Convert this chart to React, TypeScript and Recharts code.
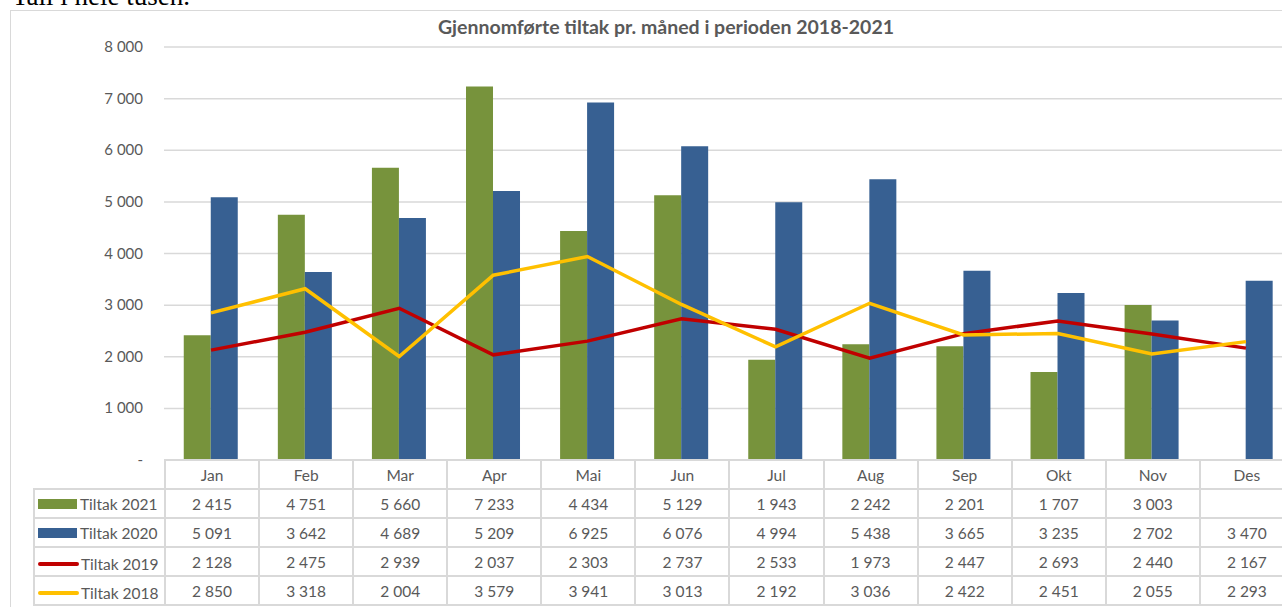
import React from "react";
import {
  ComposedChart,
  Bar,
  Line,
  XAxis,
  YAxis,
  CartesianGrid,
} from "recharts";

const months = ["Jan", "Feb", "Mar", "Apr", "Mai", "Jun", "Jul", "Aug", "Sep", "Okt", "Nov", "Des"];
const tiltak2021 = [2415, 4751, 5660, 7233, 4434, 5129, 1943, 2242, 2201, 1707, 3003, null];
const tiltak2020 = [5091, 3642, 4689, 5209, 6925, 6076, 4994, 5438, 3665, 3235, 2702, 3470];
const tiltak2019 = [2128, 2475, 2939, 2037, 2303, 2737, 2533, 1973, 2447, 2693, 2440, 2167];
const tiltak2018 = [2850, 3318, 2004, 3579, 3941, 3013, 2192, 3036, 2422, 2451, 2055, 2293];
const yTicks = [0, 1000, 2000, 3000, 4000, 5000, 6000, 7000, 8000];

const series = [
  { key: "t2021", name: "Tiltak 2021", values: tiltak2021, color: "#77933C", kind: "bar" },
  { key: "t2020", name: "Tiltak 2020", values: tiltak2020, color: "#376092", kind: "bar" },
  { key: "t2019", name: "Tiltak 2019", values: tiltak2019, color: "#C00000", kind: "line" },
  { key: "t2018", name: "Tiltak 2018", values: tiltak2018, color: "#FFC000", kind: "line" },
];

const data = months.map((m, i) => ({
  month: m,
  t2021: tiltak2021[i],
  t2020: tiltak2020[i],
  t2019: tiltak2019[i],
  t2018: tiltak2018[i],
}));

// "2 415"-style thousands grouping
const fmt = (n: number | null) =>
  n == null ? "" : String(n).replace(/\B(?=(\d{3})+(?!\d))/g, " ");

const FONT = "Lato, 'Open Sans', sans-serif";
const TEXT = "#595959";
const GRID = "#d9d9d9";

const CHART_W = 1300;
const PLOT_LEFT = 164;
const PLOT_RIGHT = 1293;
const colW = (PLOT_RIGHT - PLOT_LEFT) / 12;

const YTick = (props: any) => {
  const { x, y, payload } = props;
  const v = payload.value;
  return (
    <text x={x} y={y} dy={5} textAnchor="end" fill={TEXT} fontSize={15} fontFamily={FONT}>
      {v === 0 ? "-" : fmt(v)}
    </text>
  );
};

const cell: React.CSSProperties = {
  border: `2px solid ${GRID}`,
  textAlign: "center",
  padding: 0,
  color: TEXT,
  fontSize: 15.5,
  fontFamily: FONT,
  height: 27,
  whiteSpace: "nowrap",
};

export default function App() {
  return (
    <div
      style={{
        position: "absolute",
        left: 0,
        top: 0,
        width: 1282,
        height: 607,
        overflow: "hidden",
        background: "#fff",
      }}
    >
      <div
        style={{
          position: "absolute",
          left: 12,
          top: -19,
          fontFamily: "'Liberation Serif', serif",
          fontSize: 27,
          color: "#000",
          whiteSpace: "nowrap",
        }}
      >
        Tall i hele tusen.
      </div>
      <div
        style={{
          position: "absolute",
          left: 10,
          top: 10,
          width: 1300,
          height: 620,
          border: `1.5px solid ${GRID}`,
        }}
      />
      <div
        style={{
          position: "absolute",
          left: 0,
          top: 15,
          width: 1332,
          textAlign: "center",
          fontFamily: FONT,
          fontWeight: 700,
          fontSize: 19.5,
          color: TEXT,
        }}
      >
        Gjennomførte tiltak pr. måned i perioden 2018-2021
      </div>
      <div style={{ position: "absolute", left: 0, top: 0 }}>
        <ComposedChart
          width={CHART_W}
          height={470}
          data={data}
          margin={{ top: 47, right: CHART_W - PLOT_RIGHT, bottom: 10, left: 100 }}
          barCategoryGap="21%"
          barGap={0}
        >
          <CartesianGrid vertical={false} stroke={GRID} strokeWidth={1.5} />
          <XAxis dataKey="month" hide />
          <YAxis
            width={PLOT_LEFT - 100}
            domain={[0, 8000]}
            ticks={yTicks}
            axisLine={false}
            tickLine={false}
            tick={<YTick />}
            tickMargin={15}
            interval={0}
          />
          {series
            .filter((s) => s.kind === "bar")
            .map((s) => (
              <Bar key={s.key} dataKey={s.key} name={s.name} fill={s.color} isAnimationActive={false} />
            ))}
          {series
            .filter((s) => s.kind === "line")
            .map((s) => (
              <Line
                key={s.key}
                dataKey={s.key}
                name={s.name}
                stroke={s.color}
                strokeWidth={3.5}
                dot={false}
                type="linear"
                isAnimationActive={false}
              />
            ))}
        </ComposedChart>
      </div>
      <table
        style={{
          position: "absolute",
          left: 33,
          top: 459,
          borderCollapse: "collapse",
          tableLayout: "fixed",
          width: PLOT_LEFT - 33 + colW * 12,
        }}
      >
        <colgroup>
          <col style={{ width: PLOT_LEFT - 33 }} />
          {months.map((m) => (
            <col key={m} style={{ width: colW }} />
          ))}
        </colgroup>
        <tbody>
          <tr>
            <td style={{ ...cell, border: "none" }} />
            {months.map((m) => (
              <td key={m} style={cell}>
                {m}
              </td>
            ))}
          </tr>
          {series.map((s) => (
            <tr key={s.key}>
              <td style={{ ...cell, textAlign: "left", paddingLeft: 3 }}>
                <span style={{ display: "inline-flex", alignItems: "center" }}>
                  {s.kind === "bar" ? (
                    <span
                      style={{
                        display: "inline-block",
                        width: 39,
                        height: 10,
                        background: s.color,
                        marginRight: 3,
                      }}
                    />
                  ) : (
                    <span
                      style={{
                        display: "inline-block",
                        width: 41,
                        height: 4,
                        borderRadius: 2,
                        background: s.color,
                        marginRight: 2,
                      }}
                    />
                  )}
                  {s.name}
                </span>
              </td>
              {s.values.map((v, i) => (
                <td key={i} style={cell}>
                  {fmt(v)}
                </td>
              ))}
            </tr>
          ))}
        </tbody>
      </table>
    </div>
  );
}
